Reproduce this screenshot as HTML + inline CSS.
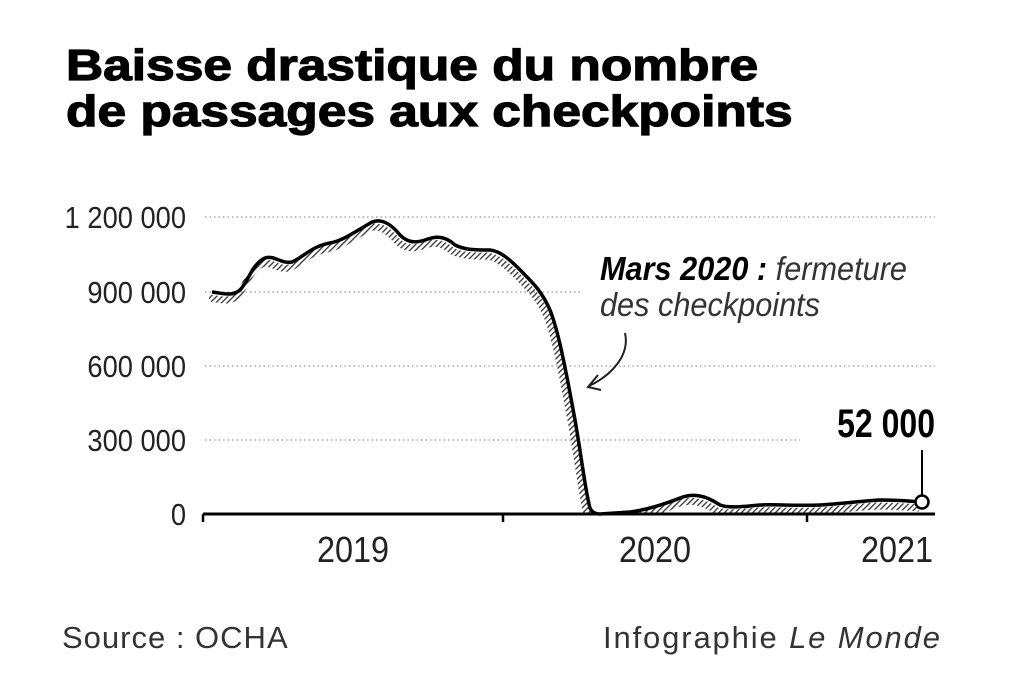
<!DOCTYPE html>
<html><head><meta charset="utf-8"><style>
html,body{margin:0;padding:0;background:#fff;}
svg{display:block;}
</style></head><body>
<svg width="1024" height="687" viewBox="0 0 1024 687" xmlns="http://www.w3.org/2000/svg" font-family="Liberation Sans, sans-serif">
<defs>
<pattern id="h" width="4" height="4" patternUnits="userSpaceOnUse" patternTransform="rotate(45)">
<rect width="1.3" height="4" fill="#333"/>
</pattern>
<clipPath id="c"><rect x="0" y="0" width="1024" height="513"/></clipPath>
</defs>
<g transform="translate(66,0) scale(1.17,1)">
<text x="0" y="80" font-size="44" font-weight="bold" fill="#000" stroke="#000" stroke-width="1.2">Baisse drastique du nombre</text>
<text x="0" y="126" font-size="44" font-weight="bold" fill="#000" stroke="#000" stroke-width="1.2">de passages aux checkpoints</text>
</g>

<g stroke="#999" stroke-width="1.3" stroke-dasharray="1.5 3">
<line x1="205" y1="217" x2="935" y2="217"/>
<line x1="205" y1="292" x2="580" y2="292"/>
<line x1="205" y1="366" x2="935" y2="366"/>
<line x1="205" y1="440" x2="800" y2="440"/>
</g>
<g font-size="31" fill="#222" text-anchor="end">
<text x="186" y="228" transform="translate(186,0) scale(0.88,1) translate(-186,0)">1 200 000</text>
<text x="186" y="303" transform="translate(186,0) scale(0.88,1) translate(-186,0)">900 000</text>
<text x="186" y="377" transform="translate(186,0) scale(0.88,1) translate(-186,0)">600 000</text>
<text x="186" y="451" transform="translate(186,0) scale(0.88,1) translate(-186,0)">300 000</text>
<text x="186" y="525" transform="translate(186,0) scale(0.88,1) translate(-186,0)">0</text>
</g>

<g clip-path="url(#c)">
<path d="M212,292 C222,293 232,297 240,290 C248,282 252,264 265,258 C275,255 280,264 292,262 C302,258 312,246 330,243 C342,241 355,232 372,222 C382,218 392,225 400,235 C406,241 413,244 425,240 C433,237 443,234 455,245 C465,250 475,250 490,250 C500,251 510,259 525,275 C534,284 542,292 550,310 C558,330 565,365 575,420 C582,460 586,495 590,508 C592,513 596,514 600,514 L630,512 C645,510 660,506 680,498 C693,493 705,495 720,505 C728,508 740,507 760,505 C775,504 790,506 820,505 C840,504 860,501 880,500 C895,500 910,501 922,502"
 fill="none" stroke="url(#h)" stroke-width="7" transform="translate(-3,6)"/>
</g>

<line x1="203" y1="514" x2="935" y2="514" stroke="#000" stroke-width="3"/>
<g stroke="#000" stroke-width="2.5">
<line x1="203" y1="514" x2="203" y2="522"/>
<line x1="503" y1="514" x2="503" y2="522"/>
<line x1="807" y1="514" x2="807" y2="522"/>
</g>

<path d="M212,292 C222,293 232,297 240,290 C248,282 252,264 265,258 C275,255 280,264 292,262 C302,258 312,246 330,243 C342,241 355,232 372,222 C382,218 392,225 400,235 C406,241 413,244 425,240 C433,237 443,234 455,245 C465,250 475,250 490,250 C500,251 510,259 525,275 C534,284 542,292 550,310 C558,330 565,365 575,420 C582,460 586,495 590,508 C592,513 596,514 600,514 L630,512 C645,510 660,506 680,498 C693,493 705,495 720,505 C728,508 740,507 760,505 C775,504 790,506 820,505 C840,504 860,501 880,500 C895,500 910,501 922,502"
 fill="none" stroke="#000" stroke-width="3.5" stroke-linejoin="round"/>

<line x1="922" y1="450" x2="922" y2="496" stroke="#000" stroke-width="2"/>
<circle cx="922" cy="502" r="6.5" fill="#fff" stroke="#000" stroke-width="2.5"/>
<text x="935" y="437" font-size="40" font-weight="bold" text-anchor="end" fill="#000" transform="translate(935,437) scale(0.8,1) translate(-935,-437)">52 000</text>

<text x="600" y="280" font-size="33" fill="#222" transform="translate(600,0) scale(0.93,1) translate(-600,0)"><tspan font-weight="bold" font-style="italic" fill="#000">Mars 2020 :</tspan><tspan font-style="italic" font-weight="normal" fill="#333"> fermeture</tspan></text>
<text x="600" y="316" font-size="33" font-style="italic" fill="#333" transform="translate(600,0) scale(0.93,1) translate(-600,0)">des checkpoints</text>
<path d="M625,333 C630,355 612,375 589,386" fill="none" stroke="#222" stroke-width="2"/>
<path d="M598,375 L588,387 L601,390" fill="none" stroke="#222" stroke-width="2"/>

<g font-size="36" fill="#222" text-anchor="middle">
<text x="353" y="562" transform="translate(353,0) scale(0.9,1) translate(-353,0)">2019</text>
<text x="655" y="562" transform="translate(655,0) scale(0.9,1) translate(-655,0)">2020</text>
<text x="897" y="562" transform="translate(897,0) scale(0.9,1) translate(-897,0)">2021</text>
</g>

<text x="62" y="648" font-size="31" fill="#333" letter-spacing="1">Source : OCHA</text>
<text x="603" y="648" font-size="31" fill="#333" textLength="337" lengthAdjust="spacing">Infographie <tspan font-style="italic">Le Monde</tspan></text>
</svg>
</body></html>
